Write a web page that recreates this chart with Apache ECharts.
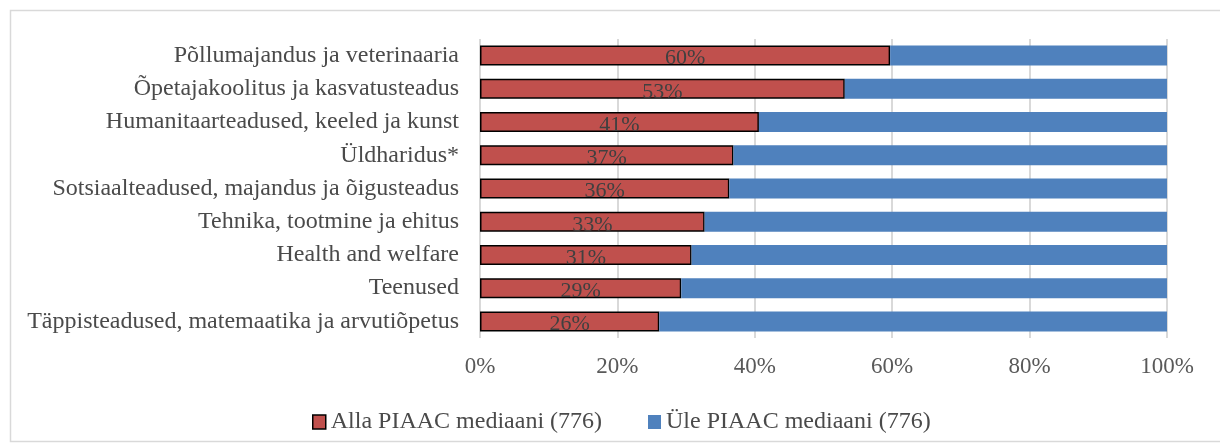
<!DOCTYPE html>
<html>
<head>
<meta charset="utf-8">
<script src="https://cdn.jsdelivr.net/npm/echarts@6/dist/echarts.min.js"></script>
<style>
    html, body { margin: 0; padding: 0; background: #fff; }
    #chart { width: 1220px; height: 445px; }
</style>
</head>
<body>
<div id="chart"></div>
<script>
const categories = [
    'Põllumajandus ja veterinaaria',
    'Õpetajakoolitus ja kasvatusteadus',
    'Humanitaarteadused, keeled ja kunst',
    'Üldharidus*',
    'Sotsiaalteadused, majandus ja õigusteadus',
    'Tehnika, tootmine ja ehitus',
    'Health and welfare',
    'Teenused',
    'Täppisteadused, matemaatika ja arvutiõpetus'
]
const belowMedian = [59.7, 53.1, 40.6, 36.9, 36.3, 32.7, 30.8, 29.3, 26.1]
const aboveMedian = [40.3, 46.9, 59.4, 63.1, 63.7, 67.3, 69.2, 70.7, 73.9]
const xTicks = [0, 20, 40, 60, 80, 100]

const font = '"Liberation Serif", "Times New Roman", serif'

onload = () => {
    let myChart = echarts.init(document.getElementById('chart'))
    let option = {
        backgroundColor: '#fff',
        textStyle: { fontFamily: font },
        graphic: [{
            type: 'rect',
            shape: { x: 10.5, y: 10.5, width: 1212, height: 431 },
            style: { fill: 'none', stroke: '#d9d9d9', lineWidth: 1.5 },
            silent: true
        }],
        grid: { left: 480, right: 53, top: 39, bottom: 107 },
        xAxis: {
            type: 'value',
            min: 0,
            max: 100,
            interval: 20,
            axisLine: { show: false },
            axisTick: { show: false },
            splitLine: { lineStyle: { color: '#d9d9d9', width: 2 } },
            axisLabel: {
                formatter: v => xTicks.includes(v) ? v + '%' : '',
                color: '#595959',
                fontSize: 23,
                fontFamily: font,
                margin: 17
            }
        },
        yAxis: {
            type: 'category',
            data: categories,
            inverse: true,
            axisLine: { show: false },
            axisTick: { show: false },
            axisLabel: {
                color: '#4a4a4a',
                fontSize: 24,
                fontFamily: font,
                margin: 21
            }
        },
        legend: {
            top: 405,
            left: 307,
            itemGap: 46,
            itemWidth: 13,
            itemHeight: 14,
            icon: 'rect',
            itemStyle: { borderWidth: 0 },
            textStyle: { color: '#4a4a4a', fontSize: 24, fontFamily: font },
            data: [
                { name: 'Alla PIAAC mediaani (776)', itemStyle: { borderColor: '#000', borderWidth: 1.5 } },
                { name: 'Üle PIAAC mediaani (776)' }
            ]
        },
        series: [
            {
                name: 'Alla PIAAC mediaani (776)',
                type: 'bar',
                stack: 'total',
                data: belowMedian,
                barWidth: 20,
                itemStyle: { color: '#c0504d', borderColor: '#000', borderWidth: 1.5 },
                label: {
                    show: true,
                    position: 'inside',
                    offset: [0, 3],
                    formatter: p => Math.round(p.value) + '%',
                    color: '#404040',
                    fontSize: 22,
                    fontFamily: font
                }
            },
            {
                name: 'Üle PIAAC mediaani (776)',
                type: 'bar',
                stack: 'total',
                data: aboveMedian,
                barWidth: 20,
                itemStyle: { color: '#4f81bd' }
            }
        ]
    }
    option && myChart.setOption(option)
}
</script>
</body>
</html>
